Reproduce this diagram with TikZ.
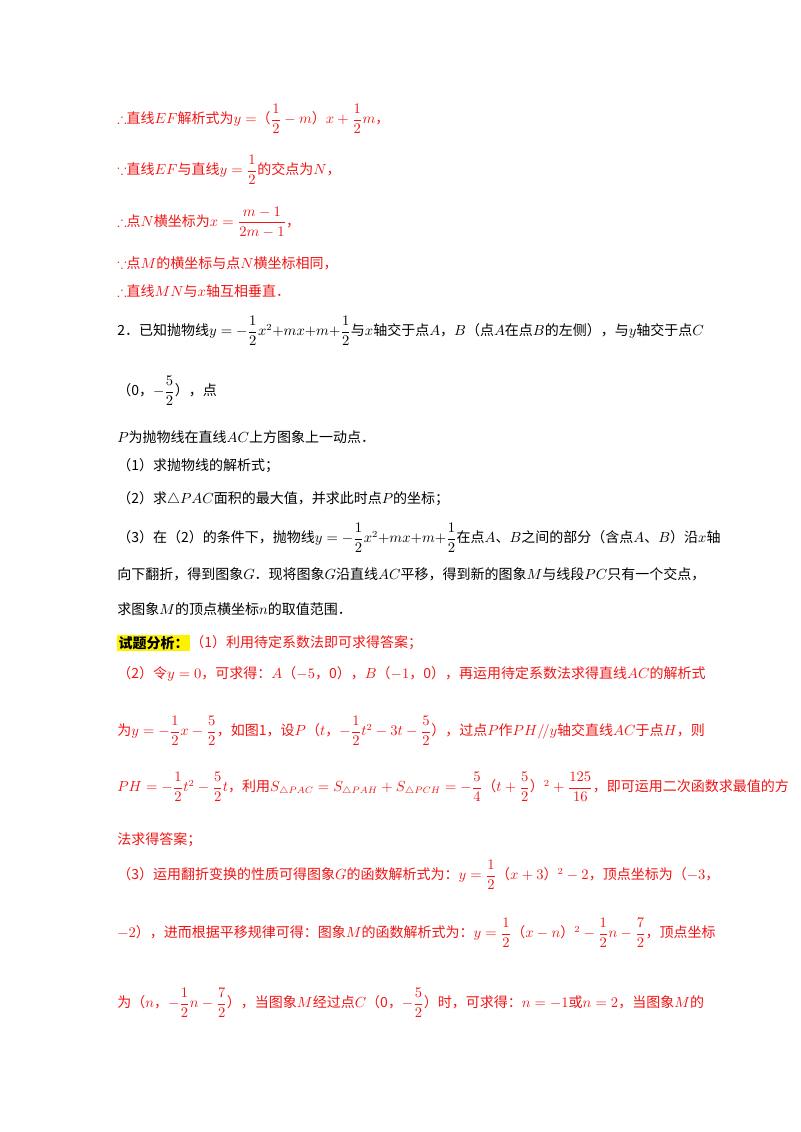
\documentclass[tikz,border=0pt]{standalone}
\usepackage{amsmath,amssymb}
\usepackage{fontspec}
\setmainfont{Noto Sans CJK SC}
\definecolor{rd}{RGB}{240,20,20}
\begin{document}
\begin{tikzpicture}[x=0.75pt,y=-0.75pt,
  tl/.style={anchor=west,inner sep=0pt,font=\fontsize{10.5}{12}\selectfont},
  r/.style={tl,text=rd}]
\useasboundingbox (0,0) rectangle (800,1132);
\node[r] (l1) at (117,119) {$\therefore$直线$EF$解析式为$y=$（$\dfrac12-m$）$x+\dfrac12m$，};
\node[r] (l2) at (117,170) {$\because$直线$EF$与直线$y=\dfrac12$的交点为$N$，};
\node[r] (l3) at (117,222) {$\therefore$点$N$横坐标为$x=\dfrac{m-1}{2m-1}$，};
\node[r] (l4) at (117,263) {$\because$点$M$的横坐标与点$N$横坐标相同，};
\node[r] (l5) at (117,291) {$\therefore$直线$MN$与$x$轴互相垂直．};
\node[tl] (q1) at (117,331) {2．已知抛物线$y=-\dfrac12x^2{+}mx{+}m{+}\dfrac12$与$x$轴交于点$A$，$B$（点$A$在点$B$的左侧），与$y$轴交于点$C$};
\node[tl] (q2) at (117,391) {（0，$-\dfrac52$），点};
\node[tl] (q3) at (117,437) {$P$为抛物线在直线$AC$上方图象上一动点．};
\node[tl] (q4) at (117,466) {（1）求抛物线的解析式；};
\node[tl] (q5) at (117,499) {（2）求$\triangle PAC$面积的最大值，并求此时点$P$的坐标；};
\node[tl] (q6) at (117,538) {（3）在（2）的条件下，抛物线$y=-\dfrac12x^2{+}mx{+}m{+}\dfrac12$在点$A$、$B$之间的部分（含点$A$、$B$）沿$x$轴};
\node[tl] (q7) at (117,574) {向下翻折，得到图象$G$．现将图象$G$沿直线$AC$平移，得到新的图象$M$与线段$PC$只有一个交点，};
\node[tl] (q8) at (117,609) {求图象$M$的顶点横坐标$n$的取值范围．};
\node[tl,fill=yellow,inner sep=1pt] (h) at (117,643) {\textbf{试题分析：}};
\node[r] (a1) at (h.east) [anchor=west] {（1）利用待定系数法即可求得答案；};
\node[r] (a2) at (117,674) {（2）令$y=0$，可求得：$A$（$-5$，0），$B$（$-1$，0），再运用待定系数法求得直线$AC$的解析式};
\node[r] (a3) at (117,731) {为$y=-\dfrac12x-\dfrac52$，如图1，设$P$（$t$，$-\dfrac12t^2-3t-\dfrac52$），过点$P$作$PH/\!/y$轴交直线$AC$于点$H$，则};
\node[r] (a4) at (117,787) {$PH=-\dfrac12t^2-\dfrac52t$，利用$S_{\triangle PAC}=S_{\triangle PAH}+S_{\triangle PCH}=-\dfrac54$（$t+\dfrac52$）$^2+\dfrac{125}{16}$，即可运用二次函数求最值的方};
\node[r] (a5) at (117,840) {法求得答案；};
\node[r] (a6) at (117,875) {（3）运用翻折变换的性质可得图象$G$的函数解析式为：$y=\dfrac12$（$x+3$）$^2-2$，顶点坐标为（$-3$，};
\node[r] (a7) at (117,933) {$-2$），进而根据平移规律可得：图象$M$的函数解析式为：$y=\dfrac12$（$x-n$）$^2-\dfrac12n-\dfrac72$，顶点坐标};
\node[r] (a8) at (117,1003) {为（$n$，$-\dfrac12n-\dfrac72$），当图象$M$经过点$C$（0，$-\dfrac52$）时，可求得：$n=-1$或$n=2$，当图象$M$的};
\end{tikzpicture}
\end{document}
